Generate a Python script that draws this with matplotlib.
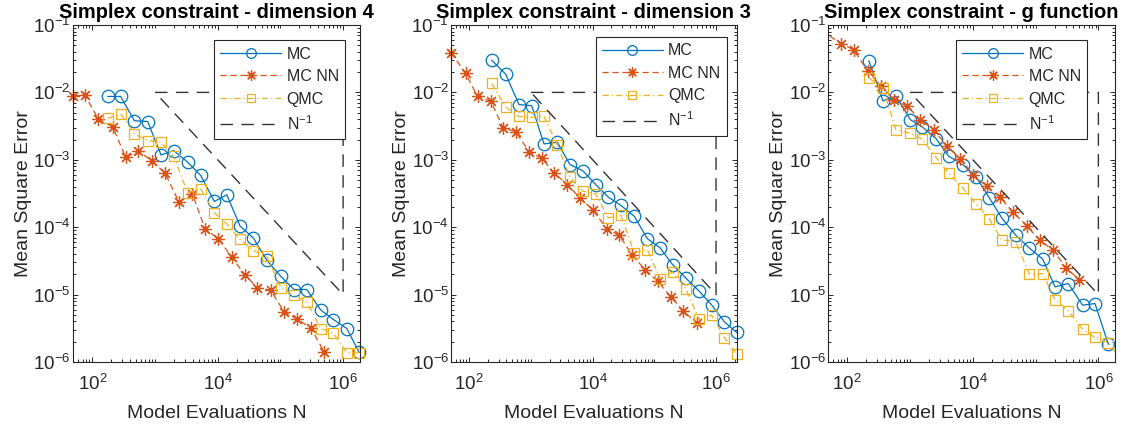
"""plot.py - MSE convergence of MC, MC NN and QMC under a simplex constraint."""
import numpy as np
import matplotlib
matplotlib.use("Agg")
import matplotlib.pyplot as plt
import matplotlib.ticker as ticker

plt.rcParams["font.family"] = ["Liberation Sans", "DejaVu Sans"]
plt.rcParams["mathtext.fontset"] = "custom"
plt.rcParams["mathtext.rm"] = "Liberation Sans"
plt.rcParams["mathtext.it"] = "Liberation Sans:italic"
plt.rcParams["mathtext.bf"] = "Liberation Sans:bold"

# ---- data ---------------------------------------------------------------
titles = ["Simplex constraint - dimension 4",
          "Simplex constraint - dimension 3",
          "Simplex constraint - g function"]
labels = ["MC", "MC NN", "QMC", "N$^{-1}$"]

# panel 1: dimension 4
n_mc_d4 = [176, 283, 468, 763, 1246, 1986, 3322, 5354, 8850, 13930, 22720,
           37100, 60500, 101200, 165000, 263000, 440000, 701000, 1146000,
           1800000]
n_nn_d4 = [48.6, 76, 125, 211, 340, 542, 885, 1445, 2417, 3945, 6283, 10260,
           16700, 27300, 43000, 70100, 114500, 186800, 304800, 497700]
mc_d4 = [8.7e-3, 8.7e-3, 3.8e-3, 3.7e-3, 1.18e-3, 1.37e-3, 9.2e-4, 5.85e-4,
         2.41e-4, 3.03e-4, 1.04e-4, 6.9e-5, 3.23e-5, 1.87e-5, 1.19e-5,
         1.19e-5, 5.9e-6, 4.27e-6, 3.14e-6, 1.39e-6]
nn_d4 = [8.9e-3, 9.1e-3, 4.0e-3, 3.1e-3, 1.09e-3, 1.34e-3, 9.75e-4, 6.3e-4,
         2.35e-4, 3.1e-4, 9.5e-5, 6.7e-5, 3.6e-5, 1.94e-5, 1.27e-5, 1.16e-5,
         5.55e-6, 4.3e-6, 3.2e-6, 1.42e-6]
qmc_d4 = [4.1e-3, 4.8e-3, 2.42e-3, 1.93e-3, 1.82e-3, 1.12e-3, 3.24e-4,
          3.7e-4, 1.64e-4, 1.12e-4, 6.6e-5, 4.5e-5, 3.7e-5, 1.27e-5, 9.7e-6,
          7.8e-6, 3.14e-6, 2.65e-6, 1.37e-6, 1.37e-6]

# panel 2: dimension 3
n_mc_d3 = [230, 388, 638, 1026, 1626, 2673, 4285, 6887, 11190, 17950, 28770,
           47420, 76910, 123600, 198200, 322100, 529700, 851100, 1365000,
           2163000]
n_nn_d3 = [50.5, 87.3, 136, 222, 356, 564, 929, 1489, 2388, 3882, 6237,
           10260, 16870, 27040, 43950, 70630, 113200, 186200, 295100, 485300]
mc_d3 = [3.0e-2, 1.87e-2, 6.6e-3, 6.35e-3, 1.72e-3, 1.82e-3, 8.5e-4, 6.9e-4,
         4.3e-4, 2.79e-4, 2.1e-4, 1.45e-4, 6.75e-5, 4.96e-5, 2.78e-5,
         1.77e-5, 1.13e-5, 7.0e-6, 3.95e-6, 2.74e-6]
nn_d3 = [3.9e-2, 1.91e-2, 8.7e-3, 7.4e-3, 2.97e-3, 2.62e-3, 1.32e-3, 1.05e-3,
         6.4e-4, 4.25e-4, 2.73e-4, 1.77e-4, 9.5e-5, 7.6e-5, 3.83e-5, 2.35e-5,
         1.58e-5, 9.25e-6, 5.7e-6, 3.81e-6]
qmc_d3 = [1.36e-2, 6.1e-3, 4.4e-3, 4.27e-3, 4.4e-3, 1.68e-3, 5.5e-4, 3.43e-4,
          3.13e-4, 1.38e-4, 1.5e-4, 4.14e-5, 4.64e-5, 1.73e-5, 2.17e-5,
          1.23e-5, 4.3e-6, 4.95e-6, 2.29e-6, 1.31e-6]

# panel 3: g function
n_mc_g = [221, 370, 596, 1009, 1549, 2618, 4111, 6887, 11220, 18280, 28770,
          48640, 79430, 129400, 203700, 331900, 561000, 883100, 1439000,
          2350000]
n_nn_g = [39, 80, 126, 211, 344, 553, 904, 1455, 2371, 3873, 6310, 10160,
          16600, 27040, 44160, 71940, 117500, 191400, 304800, 496600]
mc_g = [2.94e-2, 7.5e-3, 8.8e-3, 3.94e-3, 3.1e-3, 2.04e-3, 1.13e-3, 8.5e-4,
        5.65e-4, 2.73e-4, 1.38e-4, 7.56e-5, 4.91e-5, 3.37e-5, 1.30e-5,
        1.46e-5, 6.97e-6, 7.37e-6, 1.84e-6]
nn_g = [8.2e-2, 5.3e-2, 4.28e-2, 2.09e-2, 1.23e-2, 7.8e-3, 6.2e-3, 3.94e-3,
        2.8e-3, 1.59e-3, 1.03e-3, 6.04e-4, 4.02e-4, 2.79e-4, 1.66e-4,
        1.05e-4, 6.38e-5, 4.54e-5, 2.48e-5, 1.67e-5]
qmc_g = [1.63e-2, 1.15e-2, 2.77e-3, 2.47e-3, 2.04e-3, 1.07e-3, 6.32e-4,
         3.84e-4, 2.22e-4, 1.33e-4, 6.52e-5, 6.02e-5, 2.0e-5, 2.05e-5,
         8.43e-6, 5.74e-6, 3.07e-6, 2.31e-6, 1.93e-6, 1.07e-6]

# N^-1 reference triangle
tri_n = [1e3, 1e6, 1e6, 1e3]
tri_mse = [1e-2, 1e-2, 1e-5, 1e-2]

xlims = [(48.6, 1.86e6), (50.5, 2.163e6), (49.8, 1.84e6)]

# ---- style ----------------------------------------------------------------
C_MC = "#0072BD"
C_NN = "#D95319"
C_QMC = "#EDB120"
C_AX = "#262626"
STAR = (8, 2, 0)

# axes boxes in figure pixels: left, right (top 25, bottom 362)
BOXES = [(72.7, 360.0), (451.0, 736.7), (828.3, 1115.0)]
LEG_ANCHOR = [(0.948, 0.955), (0.965, 0.965), (0.903, 0.955)]
W, H = 1130, 430


def draw_panel(ax, k, n_mc, n_nn, mc, nn, qmc, clip):
    ax.plot(n_mc[:len(mc)], mc, "-", color=C_MC, lw=0.9, marker="o", ms=9,
            mfc="none", mew=0.9, label=labels[0], clip_on=clip)
    ax.plot(n_nn, nn, color=C_NN, lw=0.9, ls=(0, (5, 3)), marker=STAR, ms=9,
            mew=0.9, label=labels[1], clip_on=clip)
    ax.plot(n_mc[:len(qmc)], qmc, color=C_QMC, lw=0.9,
            ls=(0, (5, 2.5, 1, 2.5)), marker="s", ms=7.5, mfc="none",
            mew=0.9, label=labels[2], clip_on=clip)
    ax.plot(tri_n, tri_mse, color="#333333", lw=1.0, ls=(0, (9, 6)),
            label=labels[3])

    ax.set_xscale("log")
    ax.set_yscale("log")
    ax.set_xlim(*xlims[k])
    ax.set_ylim(1e-6, 1e-1)
    ax.set_xticks([1e2, 1e4, 1e6])
    ax.set_yticks([1e-6, 1e-5, 1e-4, 1e-3, 1e-2, 1e-1])
    ax.xaxis.set_minor_locator(ticker.LogLocator(base=10, subs=np.arange(1, 10),
                                                 numticks=30))
    ax.yaxis.set_minor_locator(ticker.LogLocator(base=10, subs=np.arange(2, 10),
                                                 numticks=30))
    ax.xaxis.set_minor_formatter(ticker.NullFormatter())
    ax.yaxis.set_minor_formatter(ticker.NullFormatter())
    ax.tick_params(which="both", direction="in", top=True, right=True,
                   colors=C_AX, labelsize=13.5, width=0.7)
    ax.tick_params(which="major", length=3.3)
    ax.tick_params(which="minor", length=2.0)
    ax.tick_params(axis="x", which="major", pad=8.5)
    ax.tick_params(axis="y", which="major", pad=1.5)
    for sp in ax.spines.values():
        sp.set_color(C_AX)
        sp.set_linewidth(0.8)

    ax.set_xlabel("Model Evaluations N", fontsize=14, color=C_AX, labelpad=8)
    ax.set_ylabel("Mean Square Error", fontsize=14, color=C_AX, labelpad=1)
    ax.set_title(titles[k], fontsize=14.5, fontweight="bold", pad=5)

    leg = ax.legend(loc="upper right", bbox_to_anchor=LEG_ANCHOR[k],
                    borderaxespad=0, fontsize=11.5, fancybox=False,
                    framealpha=1, edgecolor=C_AX, handlelength=3.8,
                    handletextpad=0.35, labelspacing=0.47, borderpad=0.4,
                    numpoints=1)
    leg.get_frame().set_linewidth(0.8)
    for t in leg.get_texts():
        t.set_color(C_AX)
    # legend icons use smaller markers than the plot
    for h, ms in zip(leg.legend_handles, [7, 7.5, 5.5, 0]):
        if ms:
            h.set_markersize(ms)


def main():
    fig = plt.figure(figsize=(W / 100, H / 100), dpi=100)
    panels = [
        (n_mc_d4, n_nn_d4, mc_d4, nn_d4, qmc_d4, False),
        (n_mc_d3, n_nn_d3, mc_d3, nn_d3, qmc_d3, False),
        (n_mc_g, n_nn_g, mc_g, nn_g, qmc_g, True),
    ]
    for k, (left, right) in enumerate(BOXES):
        ax = fig.add_axes([left / W, (H - 362) / H, (right - left) / W,
                           337 / H])
        draw_panel(ax, k, *panels[k])
    fig.savefig("out.png", dpi=100)
    plt.close(fig)


if __name__ == "__main__":
    main()
